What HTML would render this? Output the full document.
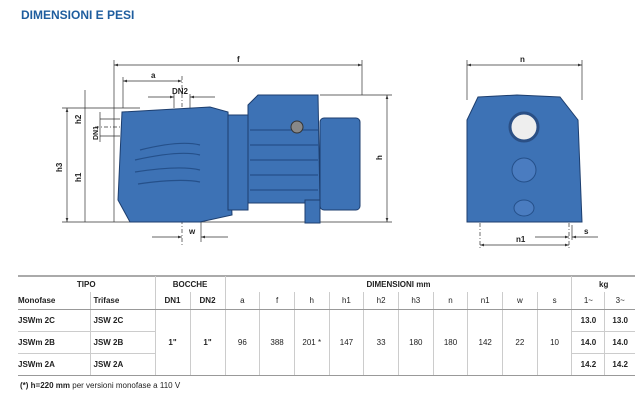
<!DOCTYPE html>
<html><head><meta charset="utf-8"><style>
body{margin:0;width:640px;height:405px;background:#fff;font-family:"Liberation Sans",sans-serif;position:relative;overflow:hidden}
.t{position:absolute;font-size:9px;color:#222}
table{position:absolute;left:18px;top:276px;width:617px;border-collapse:collapse;font-size:8px;color:#222;table-layout:fixed}
td{text-align:center;padding:0;border-left:1px solid #ccc}
td.b{font-weight:bold}
tr.r1 td{height:16px}
tr.r2 td{height:17px;border-bottom:1px solid #999}
tr.d td{height:21px;border-bottom:1px solid #ccc}
.nl{border-left:none!important}
</style></head><body>
<div style="position:absolute;left:21px;top:8px;font-weight:bold;font-size:12px;color:#1e5d9e">DIMENSIONI E PESI</div>
<svg width="640" height="270" style="position:absolute;left:0;top:0" font-family="Liberation Sans" font-size="8" font-weight="bold" fill="#222">
<defs><marker id="m" markerWidth="6" markerHeight="4" refX="6" refY="2" orient="auto-start-reverse"><path d="M0 0L6 2L0 4Z" fill="#333"/></marker></defs>
<g stroke="#333" stroke-width="0.7" fill="none">
<line x1="114" y1="65" x2="362" y2="65" marker-start="url(#m)" marker-end="url(#m)"/><line x1="114" y1="60" x2="114" y2="222"/><line x1="362" y1="60" x2="362" y2="95"/>
<line x1="123" y1="81" x2="182" y2="81" marker-start="url(#m)" marker-end="url(#m)"/><line x1="123" y1="77" x2="123" y2="108"/>
<line x1="320" y1="95" x2="392" y2="95"/><line x1="387" y1="95" x2="387" y2="222" marker-start="url(#m)" marker-end="url(#m)"/>
<line x1="62" y1="108" x2="140" y2="108"/><line x1="62" y1="222" x2="392" y2="222"/>
<line x1="67" y1="108" x2="67" y2="222" marker-start="url(#m)" marker-end="url(#m)"/><line x1="85" y1="90" x2="85" y2="222"/>
<line x1="100" y1="119" x2="120" y2="119"/><line x1="100" y1="136" x2="120" y2="136"/><line x1="100" y1="112" x2="100" y2="142"/>
<line x1="95" y1="127" x2="145" y2="127" stroke-dasharray="4,2,1,2"/>
<line x1="148" y1="97" x2="174" y2="97" marker-end="url(#m)"/><line x1="190" y1="97" x2="215" y2="97" marker-start="url(#m)"/><line x1="174" y1="94" x2="174" y2="108"/><line x1="190" y1="94" x2="190" y2="108"/>
<line x1="152" y1="237" x2="182" y2="237" marker-end="url(#m)"/><line x1="201" y1="237" x2="228" y2="237" marker-start="url(#m)"/><line x1="201" y1="210" x2="201" y2="242"/>
<line x1="182" y1="76" x2="182" y2="245" stroke-dasharray="4,2,1,2"/>
<line x1="467" y1="65" x2="582" y2="65" marker-start="url(#m)" marker-end="url(#m)"/><line x1="467" y1="60" x2="467" y2="100"/><line x1="582" y1="60" x2="582" y2="100"/>
<line x1="480" y1="245" x2="569" y2="245" marker-start="url(#m)" marker-end="url(#m)"/><line x1="480" y1="205" x2="480" y2="250" stroke-dasharray="4,2,1,2"/><line x1="569" y1="205" x2="569" y2="250" stroke-dasharray="4,2,1,2"/>
<line x1="535" y1="237" x2="569" y2="237" marker-end="url(#m)"/><line x1="572" y1="237" x2="598" y2="237" marker-start="url(#m)"/><line x1="572" y1="225" x2="572" y2="240"/>
</g>
<g fill="#3d72b5" stroke="#1d3e6e" stroke-width="1">
<path d="M122 112 L210 107 L228 112 L232 215 L200 222 L130 222 L118 200 Z"/>
<rect x="228" y="115" width="20" height="95"/>
<path d="M258 95 L318 95 L320 203 L248 203 L248 105 Z"/>
<rect x="305" y="200" width="15" height="23"/>
<rect x="320" y="118" width="40" height="92" rx="4"/>
<path d="M478 97 L517 95 L560 97 L578 120 L582 222 L467 222 L467 120 Z"/>
</g>
<g stroke="#25508a" stroke-width="1.2" fill="none">
<path d="M140 150 Q180 140 200 145 M135 160 Q180 150 200 155 M135 172 Q180 165 200 170 M138 184 Q180 178 200 182"/>
<line x1="250" y1="130" x2="318" y2="130"/><line x1="250" y1="145" x2="318" y2="145"/><line x1="250" y1="160" x2="318" y2="160"/><line x1="250" y1="175" x2="318" y2="175"/><line x1="250" y1="190" x2="318" y2="190"/>
</g>
<circle cx="297" cy="127" r="6" fill="#888" stroke="#333"/>
<circle cx="524" cy="127" r="14" fill="#eee" stroke="#2a4f85" stroke-width="3"/>
<circle cx="524" cy="170" r="12" fill="#4a7cc0" stroke="#25508a"/>
<ellipse cx="524" cy="208" rx="10" ry="8" fill="#4a7cc0" stroke="#25508a"/>
<text x="237" y="62">f</text><text x="151" y="78">a</text><text x="172" y="94">DN2</text>
<text transform="translate(382,160) rotate(-90)">h</text><text transform="translate(62,172) rotate(-90)">h3</text><text transform="translate(81,182) rotate(-90)">h1</text>
<text transform="translate(81,124) rotate(-90)">h2</text><text transform="translate(98,140) rotate(-90)" font-size="7">DN1</text>
<text x="189" y="234">w</text><text x="520" y="62">n</text><text x="516" y="242">n1</text><text x="584" y="234">s</text>
</svg>
<div style="position:absolute;left:18px;top:275px;width:617px;border-top:2px solid #aaa"></div>
<table>
<colgroup><col style="width:72px"><col style="width:65px"><col style="width:35px"><col style="width:35px"><col span="10" style="width:34.7px"><col style="width:33px"><col style="width:30px"></colgroup>
<tr class="r1"><td colspan="2" class="b nl">TIPO</td><td colspan="2" class="b">BOCCHE</td><td colspan="10" class="b">DIMENSIONI mm</td><td colspan="2" class="b">kg</td></tr>
<tr class="r2"><td class="b nl" style="text-align:left">Monofase</td><td class="b" style="text-align:left;padding-left:3px">Trifase</td><td class="b">DN1</td><td class="b">DN2</td><td>a</td><td>f</td><td>h</td><td>h1</td><td>h2</td><td>h3</td><td>n</td><td>n1</td><td>w</td><td>s</td><td>1~</td><td>3~</td></tr>
<tr class="d"><td class="b nl" style="text-align:left">JSWm 2C</td><td class="b" style="text-align:left;padding-left:3px">JSW 2C</td><td rowspan="3" class="b" style="border-bottom:1px solid #999">1"</td><td rowspan="3" class="b" style="border-bottom:1px solid #999">1"</td><td rowspan="3" style="border-bottom:1px solid #999">96</td><td rowspan="3" style="border-bottom:1px solid #999">388</td><td rowspan="3" style="border-bottom:1px solid #999">201 *</td><td rowspan="3" style="border-bottom:1px solid #999">147</td><td rowspan="3" style="border-bottom:1px solid #999">33</td><td rowspan="3" style="border-bottom:1px solid #999">180</td><td rowspan="3" style="border-bottom:1px solid #999">180</td><td rowspan="3" style="border-bottom:1px solid #999">142</td><td rowspan="3" style="border-bottom:1px solid #999">22</td><td rowspan="3" style="border-bottom:1px solid #999">10</td><td class="b">13.0</td><td class="b">13.0</td></tr>
<tr class="d"><td class="b nl" style="text-align:left">JSWm 2B</td><td class="b" style="text-align:left;padding-left:3px">JSW 2B</td><td class="b">14.0</td><td class="b">14.0</td></tr>
<tr class="d"><td class="b nl" style="text-align:left;border-bottom:1px solid #999">JSWm 2A</td><td class="b" style="text-align:left;padding-left:3px;border-bottom:1px solid #999">JSW 2A</td><td class="b" style="border-bottom:1px solid #999">14.2</td><td class="b" style="border-bottom:1px solid #999">14.2</td></tr>
</table>
<div class="t" style="left:20px;top:381px;font-size:8px"><b>(*) h=220 mm</b> per versioni monofase a 110 V</div>
</body></html>
